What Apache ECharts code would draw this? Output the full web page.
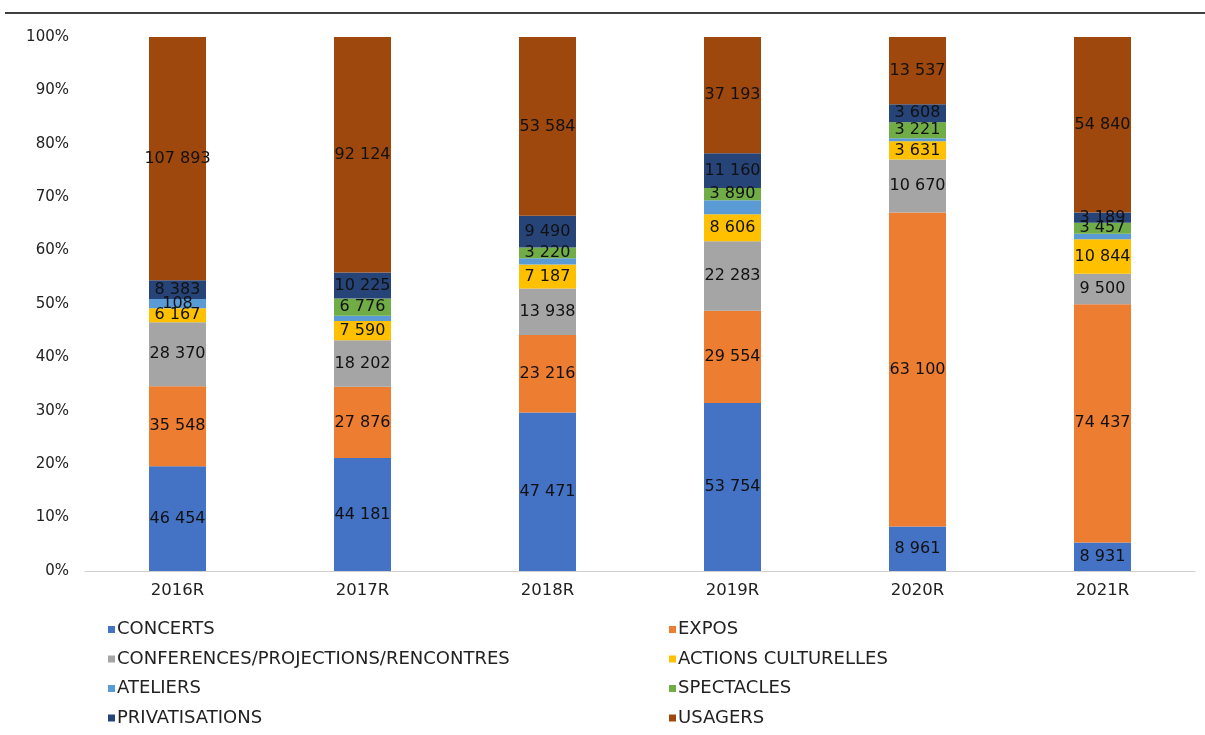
<!DOCTYPE html>
<html>
<head>
<meta charset="utf-8">
<script src="https://cdn.jsdelivr.net/npm/echarts@6/dist/echarts.min.js"></script>
<style>
html,body{margin:0;padding:0;background:#fff;}
#chart{width:1205px;height:735px;}
</style>
</head>
<body>
<div id="chart"></div>
<script>
const categories = ['2016R', '2017R', '2018R', '2019R', '2020R', '2021R'];
const seriesNames = ['CONCERTS', 'EXPOS', 'CONFERENCES/PROJECTIONS/RENCONTRES', 'ACTIONS CULTURELLES', 'ATELIERS', 'SPECTACLES', 'PRIVATISATIONS', 'USAGERS'];
const concerts = [46454, 44181, 47471, 53754, 8961, 8931];
const expos = [35548, 27876, 23216, 29554, 63100, 74437];
const conferences = [28370, 18202, 13938, 22283, 10670, 9500];
const actions = [6167, 7590, 7187, 8606, 3631, 10844];
const ateliers = [4108, 2000, 1900, 4500, 600, 1700];
const ateliersLabels = ['108', '', '', '', '', ''];
const spectacles = [0, 6776, 3220, 3890, 3221, 3457];
const privatisations = [8383, 10225, 9490, 11160, 3608, 3189];
const usagers = [107893, 92124, 53584, 37193, 13537, 54840];
const yTicks = ['0%', '10%', '20%', '30%', '40%', '50%', '60%', '70%', '80%', '90%', '100%'];
const colors = ['#4472C4', '#ED7D31', '#A5A5A5', '#FFC000', '#5B9BD5', '#70AD47', '#264478', '#9E480E'];

const allSeries = [concerts, expos, conferences, actions, ateliers, spectacles, privatisations, usagers];
const totals = categories.map((c, j) => allSeries.reduce((s, arr) => s + arr[j], 0));
function fmt(n) { return String(n).replace(/\B(?=(\d{3})+(?!\d))/g, ' '); }

const FONT = 'DejaVu Sans, sans-serif';
const series = allSeries.map((arr, i) => ({
  name: seriesNames[i],
  type: 'bar',
  stack: 'total',
  barWidth: 57,
  itemStyle: { color: colors[i] },
  data: arr.map((v, j) => ({
    value: v / totals[j] * 100,
    txt: i === 4 ? ateliersLabels[j] : (v > 0 ? fmt(v) : '')
  })),
  label: {
    show: true,
    position: 'inside',
    color: '#111',
    fontFamily: FONT,
    fontSize: 16,
    formatter: p => p.data.txt
  },
  emphasis: { disabled: true }
}));

const leftNames = [seriesNames[0], seriesNames[2], seriesNames[4], seriesNames[6]];
const rightNames = [seriesNames[1], seriesNames[3], seriesNames[5], seriesNames[7]];
const legendBase = {
  orient: 'vertical',
  top: 615,
  height: 130,
  itemWidth: 7,
  itemHeight: 7,
  itemGap: 10.5,
  icon: 'rect',
  textStyle: { fontFamily: FONT, fontSize: 18, color: '#222', lineHeight: 19, padding: [0, 0, 0, -3] },
  selectedMode: false
};

const chart = echarts.init(document.getElementById('chart'), null, { renderer: 'canvas' });
chart.setOption({
  animation: false,
  backgroundColor: '#fff',
  color: colors,
  grid: { left: 85, right: 10, top: 37, bottom: 164, containLabel: false },
  xAxis: {
    type: 'category',
    data: categories,
    axisLine: { show: true, lineStyle: { color: '#d0d0d0', width: 1 } },
    axisTick: { show: false },
    axisLabel: { color: '#222', fontFamily: FONT, fontSize: 16.5, margin: 11 }
  },
  yAxis: {
    type: 'value',
    min: 0,
    max: 100,
    interval: 10,
    axisLine: { show: false },
    axisTick: { show: false },
    splitLine: { show: false },
    axisLabel: {
      color: '#222', fontFamily: FONT, fontSize: 15, margin: 16,
      formatter: v => yTicks[Math.round(v / 10)]
    }
  },
  legend: [
    Object.assign({}, legendBase, { left: 103, data: leftNames }),
    Object.assign({}, legendBase, { left: 664, data: rightNames })
  ],
  graphic: [
    { type: 'line', shape: { x1: 5, y1: 13, x2: 1205, y2: 13 }, style: { stroke: '#000', lineWidth: 1.5 } }
  ],
  series: series
});
</script>
</body>
</html>
